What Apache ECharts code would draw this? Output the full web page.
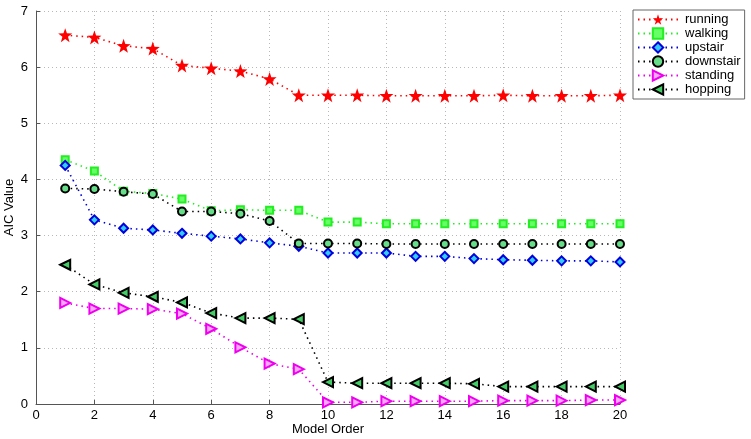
<!DOCTYPE html>
<html><head><meta charset="utf-8">
<script src="https://cdn.jsdelivr.net/npm/echarts@6/dist/echarts.min.js"></script>
<style>html,body{margin:0;padding:0;background:#fff}#c{width:751px;height:439px}</style>
</head><body><div id="c"></div>
<script>
const modelOrder = [1,2,3,4,5,6,7,8,9,10,11,12,13,14,15,16,17,18,19,20];
const running   = [6.57,6.53,6.38,6.33,6.03,5.98,5.93,5.79,5.50,5.50,5.50,5.49,5.49,5.49,5.49,5.50,5.49,5.49,5.49,5.50];
const walking   = [4.35,4.15,3.79,3.75,3.65,3.44,3.46,3.45,3.45,3.24,3.24,3.21,3.21,3.21,3.21,3.21,3.21,3.21,3.21,3.21];
const upstair   = [4.25,3.28,3.13,3.10,3.04,2.99,2.94,2.87,2.81,2.69,2.69,2.69,2.63,2.63,2.59,2.57,2.56,2.55,2.55,2.53];
const downstair = [3.84,3.83,3.78,3.74,3.43,3.43,3.39,3.26,2.86,2.86,2.86,2.85,2.85,2.85,2.85,2.85,2.85,2.85,2.85,2.85];
const standing  = [1.80,1.70,1.70,1.69,1.61,1.34,1.01,0.72,0.62,0.03,0.03,0.05,0.05,0.05,0.05,0.06,0.06,0.06,0.07,0.07];
const hopping   = [2.48,2.13,1.98,1.91,1.81,1.62,1.53,1.53,1.51,0.39,0.37,0.37,0.37,0.37,0.36,0.31,0.31,0.31,0.31,0.31];
const xTicks = [0,2,4,6,8,10,12,14,16,18,20];
const yTicks = [0,1,2,3,4,5,6,7];

const STAR = 'path://M0,-10 L2.35,-3.24 L9.51,-3.09 L3.8,1.24 L5.88,8.09 L0,4 L-5.88,8.09 L-3.8,1.24 L-9.51,-3.09 L-2.35,-3.24 Z';
const FONT = 'Liberation Sans';

function mk(name, vals, color, symbol, size, fill, border, rotate) {
  return {
    name, type: 'line',
    data: modelOrder.map((x, i) => [x, vals[i]]),
    symbol, symbolSize: size, symbolRotate: rotate || 0,
    showAllSymbol: true,
    lineStyle: { color, width: 1.6, type: [1.5, 4] },
    itemStyle: { color: fill, borderColor: border, borderWidth: border === fill ? 0 : 2 },
    emphasis: { disabled: true },
    animation: false
  };
}

const chart = echarts.init(document.getElementById('c'), null, { renderer: 'canvas' });
chart.setOption({
  backgroundColor: '#fff',
  animation: false,
  textStyle: { fontFamily: FONT },
  grid: { left: 36, right: 131, top: 11, bottom: 35, containLabel: false, outerBoundsMode: 'none' },
  xAxis: {
    type: 'value', min: 0, max: 20, interval: 2,
    name: 'Model Order', nameLocation: 'middle', nameGap: 19, nameMoveOverlap: false,
    nameTextStyle: { fontFamily: FONT, fontSize: 13, color: '#000' },
    axisLine: { onZero: false, lineStyle: { color: '#555', width: 1 } },
    axisTick: { inside: true, length: 4, lineStyle: { color: '#555' } },
    axisLabel: { fontFamily: FONT, fontSize: 13, color: '#000', margin: 5,
      formatter: v => xTicks.includes(v) ? String(v) : '' },
    splitLine: { show: true, lineStyle: { color: '#b8b8b8', type: [1, 3], width: 1 } }
  },
  yAxis: {
    type: 'value', min: 0, max: 7, interval: 1,
    name: 'AIC Value', nameLocation: 'middle', nameGap: 20, nameRotate: 90, nameMoveOverlap: false,
    nameTextStyle: { fontFamily: FONT, fontSize: 13, color: '#000' },
    axisLine: { show: true, onZero: false, lineStyle: { color: '#555', width: 1 } },
    axisTick: { show: true, inside: true, length: 4, lineStyle: { color: '#555' } },
    axisLabel: { fontFamily: FONT, fontSize: 13, color: '#000', margin: 8,
      formatter: v => yTicks.includes(v) ? String(v) : '' },
    splitLine: { show: true, lineStyle: { color: '#b8b8b8', type: [1, 3], width: 1 } }
  },
  legend: {
    orient: 'vertical', left: 633, top: 10,
    backgroundColor: '#fff', borderColor: '#666', borderWidth: 1,
    padding: [3, 4, 3, 4], itemGap: 1, itemWidth: 40, itemHeight: 13,
    textStyle: { fontFamily: FONT, fontSize: 13, color: '#000', padding: [0, 0, 0, 2] },
    data: ['running','walking','upstair','downstair','standing','hopping']
  },
  series: [
    mk('running', running, '#ff0000', STAR, 14, '#ff0000', '#ff0000'),
    mk('walking', walking, '#22ee22', 'rect', 7, '#66ff66', '#22ee22'),
    mk('upstair', upstair, '#0000dd', 'diamond', 9, '#33ccff', '#0000dd'),
    mk('downstair', downstair, '#000000', 'circle', 8, '#66dd88', '#000000'),
    mk('standing', standing, '#ee00ee', 'triangle', 10, '#ffaaff', '#ee00ee', -90),
    mk('hopping', hopping, '#000000', 'triangle', 10, '#44cc66', '#000000', 90)
  ]
});
</script></body></html>
